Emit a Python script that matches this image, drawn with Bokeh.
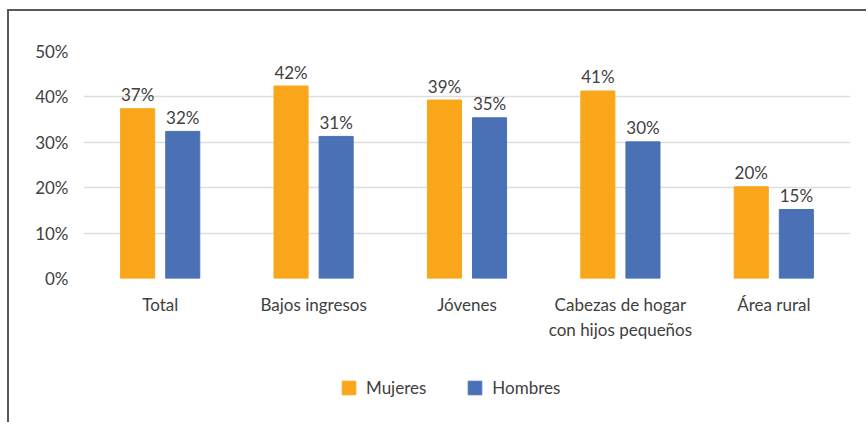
import numpy as np
from bokeh.plotting import figure
from bokeh.layouts import column
from bokeh.models import (ColumnDataSource, FixedTicker, PrintfTickFormatter,
                          Range1d, FactorRange, Legend, LegendItem)
from bokeh.transform import dodge
from bokeh.core.properties import value
from bokeh.embed import file_html
from bokeh.resources import INLINE

# ---- data ----
categories = ["Total", "Bajos ingresos", "Jóvenes",
              "Cabezas de hogar\ncon hijos pequeños", "Área rural"]
mujeres = [37.4, 42.4, 39.3, 41.3, 20.2]
hombres = [32.4, 31.3, 35.4, 30.1, 15.2]
mujeres_labels = ["37%", "42%", "39%", "41%", "20%"]
hombres_labels = ["32%", "31%", "35%", "30%", "15%"]
y_ticks = [0, 10, 20, 30, 40, 50]
series_names = ["Mujeres", "Hombres"]

ORANGE = "#FAA61A"
BLUE = "#4A71B6"
TEXT = "#404040"
FONT = "Lato"

src = ColumnDataSource(dict(cat=categories, m=mujeres, h=hombres,
                            ml=mujeres_labels, hl=hombres_labels))

p = figure(width=866, height=350, x_range=FactorRange(*categories),
           y_range=Range1d(0, 50), output_backend="svg",
           toolbar_location=None,
           min_border_left=83, min_border_right=16,
           min_border_top=51, min_border_bottom=72)
p.outline_line_color = None
p.background_fill_color = "white"
p.border_fill_alpha = 0

off = 0.147
bw = 0.222
p.vbar(x=dodge("cat", -off, range=p.x_range), top="m", width=bw, source=src,
       fill_color=ORANGE, line_color=ORANGE)
p.vbar(x=dodge("cat", off, range=p.x_range), top="h", width=bw, source=src,
       fill_color=BLUE, line_color=BLUE)

for col, lab in (("m", "ml"), ("h", "hl")):
    d = -off if col == "m" else off
    p.text(x=dodge("cat", d, range=p.x_range), y=col, text=lab, source=src,
           text_align="center", text_baseline="alphabetic", y_offset=-14,
           text_font=value(FONT), text_font_size="17px", text_color=TEXT)

# axes
p.yaxis.ticker = FixedTicker(ticks=y_ticks)
p.yaxis.formatter = PrintfTickFormatter(format="%d%%")
for ax in (p.xaxis[0], p.yaxis[0]):
    ax.axis_line_color = None
    ax.major_tick_line_color = None
    ax.minor_tick_line_color = None
    ax.major_tick_out = 0
    ax.major_tick_in = 0
    ax.minor_tick_out = 0
    ax.major_label_text_font = FONT
    ax.major_label_text_font_size = "17px"
    ax.major_label_text_color = TEXT
p.yaxis.major_label_standoff = 15
p.xaxis.major_label_standoff = 15
p.xaxis.major_label_text_line_height = 1.22

p.xgrid.grid_line_color = None
p.ygrid.grid_line_color = "#dddddd"
p.ygrid.grid_line_width = 1.5

# ---- legend strip (separate figure below the chart) ----
leg = figure(width=866, height=72, x_range=Range1d(0, 1), y_range=Range1d(0, 1),
             output_backend="svg", toolbar_location=None,
             x_axis_type=None, y_axis_type=None,
             min_border_left=0, min_border_right=0,
             min_border_top=0, min_border_bottom=0)
leg.outline_line_color = None
leg.background_fill_alpha = 0
leg.border_fill_alpha = 0
leg.xgrid.visible = False
leg.ygrid.visible = False
# legend-only swatch renderers (no drawable bar: NaN height)
swatch = ColumnDataSource(dict(x=np.array([0.5]), top=np.array([np.nan])))
lr1 = leg.vbar(x="x", top="top", width=0.1, source=swatch,
               fill_color=ORANGE, line_color=ORANGE)
lr2 = leg.vbar(x="x", top="top", width=0.1, source=swatch,
               fill_color=BLUE, line_color=BLUE)
legend = Legend(items=[LegendItem(label=series_names[0], renderers=[lr1]),
                       LegendItem(label=series_names[1], renderers=[lr2])],
                orientation="horizontal", location=(257, 24),
                glyph_width=17, glyph_height=17, label_height=17,
                label_width=60, label_standoff=9, spacing=40, padding=0, margin=0,
                border_line_color=None, background_fill_alpha=0,
                label_text_font=FONT, label_text_font_size="17px",
                label_text_color=TEXT)
leg.add_layout(legend)

layout = column(p, leg, spacing=0)
# outer frame lines (top and left) drawn as CSS background of the container
layout.styles = {"background":
                 "linear-gradient(#595959,#595959) 7px 9px / 2px 100% no-repeat, "
                 "linear-gradient(#595959,#595959) 7px 9px / 100% 2px no-repeat, white"}

open("out.html", "w").write(file_html(layout, INLINE))
